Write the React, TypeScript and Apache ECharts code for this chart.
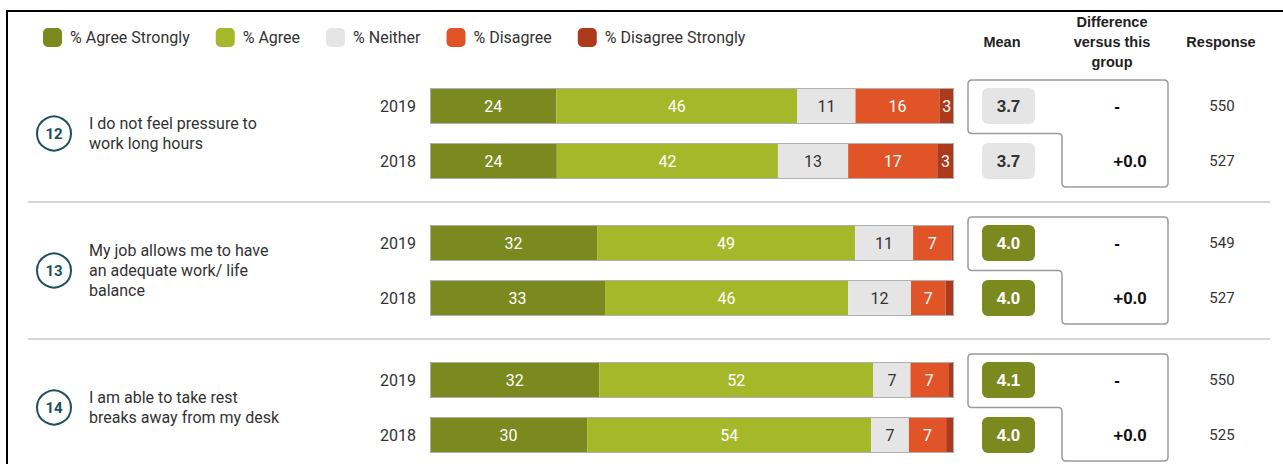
import React, { useEffect, useRef } from "react";
import * as echarts from "echarts";

const years = ["2019", "2018"];
const questionNumbers = ["12", "13", "14"];
const questionTexts = [
  "I do not feel pressure to\nwork long hours",
  "My job allows me to have\nan adequate work/ life\nbalance",
  "I am able to take rest\nbreaks away from my desk",
];
const seriesNames = ["% Agree Strongly", "% Agree", "% Neither", "% Disagree", "% Disagree Strongly"];
const seriesColors = ["#7b8a1f", "#a5b829", "#e5e5e5", "#e15427", "#ad3b1b"];
const labelColors = ["#ffffff", "#ffffff", "#333333", "#ffffff", "#ffffff"];

// per question: [2019, 2018]
const agreeStrongly = [[24.1, 24.2], [31.9, 33.4], [32.3, 30.0]];
const agree = [[46.0, 42.2], [49.2, 46.4], [52.3, 54.2]];
const neither = [[11.1, 13.4], [11.1, 12.0], [7.1, 7.2]];
const disagree = [[16.0, 17.0], [7.3, 6.6], [7.2, 7.1]];
const disagreeStrongly = [[2.8, 3.2], [0.5, 1.6], [1.1, 1.5]];
const means = [[3.7, 3.7], [4.0, 4.0], [4.1, 4.0]];
const differences = [["-", "+0.0"], ["-", "+0.0"], ["-", "+0.0"]];
const responses = [[550, 527], [549, 527], [550, 525]];

const seriesValues = [agreeStrongly, agree, neither, disagree, disagreeStrongly];

const FONT = "Roboto";
const HEAD_FONT = "Liberation Sans";

const r = 4;
const bracketPath =
  `M ${r} -26 L ${200 - r} -26 Q 200 -26 200 ${-26 + r} L 200 ${81 - r} Q 200 81 ${200 - r} 81 ` +
  `L ${94 + r} 81 Q 94 81 94 ${81 - r} L 94 ${27.5 + r} Q 94 27.5 ${94 - r} 27.5 L ${r} 27.5 ` +
  `Q 0 27.5 0 ${27.5 - r} L 0 ${-26 + r} Q 0 -26 ${r} -26 Z`;

let registered = false;

export default function App() {
  const ref = useRef<HTMLDivElement>(null);

  useEffect(() => {
    if (!ref.current) return;
    if (!registered) {
      echarts.graphic.registerShape("bracket", echarts.graphic.extendPath(bracketPath, {}));
      registered = true;
    }
    const chart = echarts.init(ref.current, null, { renderer: "svg" });

    const grids: any[] = [];
    const xAxes: any[] = [];
    const yAxes: any[] = [];
    const series: any[] = [];
    for (let g = 0; g < 3; g++) {
      grids.push({ left: 430, width: 524, top: 78.5 + g * 137, height: 110 });
      xAxes.push({ type: "value", gridIndex: g, min: 0, max: 100, show: false });
      yAxes.push({
        type: "category",
        gridIndex: g,
        data: years,
        inverse: true,
        axisLine: { show: false },
        axisTick: { show: false },
        axisLabel: { margin: 14, fontSize: 16, color: "#333", fontFamily: FONT },
      });
      seriesNames.forEach((name, s) => {
        series.push({
          name,
          type: "bar",
          xAxisIndex: g,
          yAxisIndex: g,
          stack: "s" + g,
          barWidth: 36,
          barGap: "-100%",
          itemStyle: { color: seriesColors[s] },
          label: {
            show: true,
            position: "inside",
            color: labelColors[s],
            fontSize: 16,
            fontFamily: FONT,
            formatter: (p: any) => (p.value >= 2.5 ? String(Math.round(p.value)) : ""),
          },
          data: seriesValues[s][g],
        });
      });
      series.push({
        name: "outline",
        type: "bar",
        xAxisIndex: g,
        yAxisIndex: g,
        barWidth: 36,
        barGap: "-100%",
        silent: true,
        z: 5,
        itemStyle: { color: "transparent", borderColor: "#b0b0b0", borderWidth: 1 },
        data: years.map((_, j) => seriesValues.reduce((acc, arr) => acc + arr[g][j], 0)),
      });
    }

    chart.setOption({
      animation: false,
      backgroundColor: "#ffffff",
      textStyle: { fontFamily: FONT },
      legend: {
        data: seriesNames,
        left: 43,
        top: 28,
        padding: 0,
        itemWidth: 19,
        itemHeight: 19,
        itemGap: 26,
        icon: "roundRect",
        textStyle: { fontSize: 16, color: "#333", fontFamily: FONT, padding: [0, 0, 0, 3] },
      },
      grid: grids,
      xAxis: xAxes,
      yAxis: yAxes,
      series,
    });

    const graphic: any[] = [];
    graphic.push({ type: "line", shape: { x1: 7, y1: 11, x2: 1283, y2: 11 }, style: { stroke: "#000", lineWidth: 2 } });
    graphic.push({ type: "line", shape: { x1: 7, y1: 10, x2: 7, y2: 464 }, style: { stroke: "#000", lineWidth: 2 } });

    const headStyle = { font: `bold 14.5px "${HEAD_FONT}"`, fill: "#222", textAlign: "center", textVerticalAlign: "middle" };
    graphic.push({ type: "text", x: 1002, y: 42, style: { ...headStyle, text: "Mean" } });
    graphic.push({ type: "text", x: 1112, y: 42, style: { ...headStyle, text: "Difference\nversus this\ngroup", lineHeight: 20 } });
    graphic.push({ type: "text", x: 1221, y: 42, style: { ...headStyle, text: "Response" } });

    const rowYs: number[][] = [];
    for (let g = 0; g < 3; g++) {
      rowYs.push(years.map((y) => chart.convertToPixel({ yAxisIndex: g } as any, y) as unknown as number));
    }

    for (let g = 0; g < 3; g++) {
      const [y1, y2] = rowYs[g];
      const cy = (y1 + y2) / 2;
      graphic.push({ type: "circle", shape: { cx: 54, cy, r: 17 }, style: { fill: "#fff", stroke: "#1d4f5c", lineWidth: 2 } });
      graphic.push({
        type: "text",
        x: 54,
        y: cy,
        style: { text: questionNumbers[g], font: `bold 15px ${FONT}`, fill: "#1d4f5c", textAlign: "center", textVerticalAlign: "middle" },
      });
      graphic.push({
        type: "text",
        x: 89,
        y: cy,
        style: { text: questionTexts[g], font: `16px ${FONT}`, fill: "#333", lineHeight: 20, textAlign: "left", textVerticalAlign: "middle" },
      });
      if (g < 2) {
        const sy = (y2 + rowYs[g + 1][0]) / 2;
        graphic.push({ type: "line", shape: { x1: 28, y1: sy, x2: 1270, y2: sy }, style: { stroke: "#d6d6d6", lineWidth: 2 } });
      }
      graphic.push({ type: "bracket", x: 968, y: y1, style: { fill: "none", stroke: "#9a9a9a", lineWidth: 1.5 } });
      rowYs[g].forEach((y, j) => {
        const m = means[g][j];
        const high = m >= 4;
        graphic.push({
          type: "rect",
          shape: { x: 982, y: y - 18, width: 53, height: 36, r: 6 },
          style: { fill: high ? "#7b8a1f" : "#e5e5e5" },
        });
        graphic.push({
          type: "text",
          x: 1008.5,
          y,
          style: { text: m.toFixed(1), font: `bold 17px "${HEAD_FONT}"`, fill: high ? "#fff" : "#333", textAlign: "center", textVerticalAlign: "middle" },
        });
        const d = differences[g][j];
        graphic.push({
          type: "text",
          x: d === "-" ? 1117 : 1130,
          y,
          style: { text: d, font: `bold 17px "${HEAD_FONT}"`, fill: "#111", textAlign: "center", textVerticalAlign: "middle" },
        });
        graphic.push({
          type: "text",
          x: 1222,
          y,
          style: { text: String(responses[g][j]), font: `15px ${FONT}`, fill: "#333", textAlign: "center", textVerticalAlign: "middle" },
        });
      });
    }

    chart.setOption({ graphic });

    return () => chart.dispose();
  }, []);

  return <div ref={ref} style={{ position: "fixed", left: 0, top: 0, width: 1283, height: 464 }} />;
}
